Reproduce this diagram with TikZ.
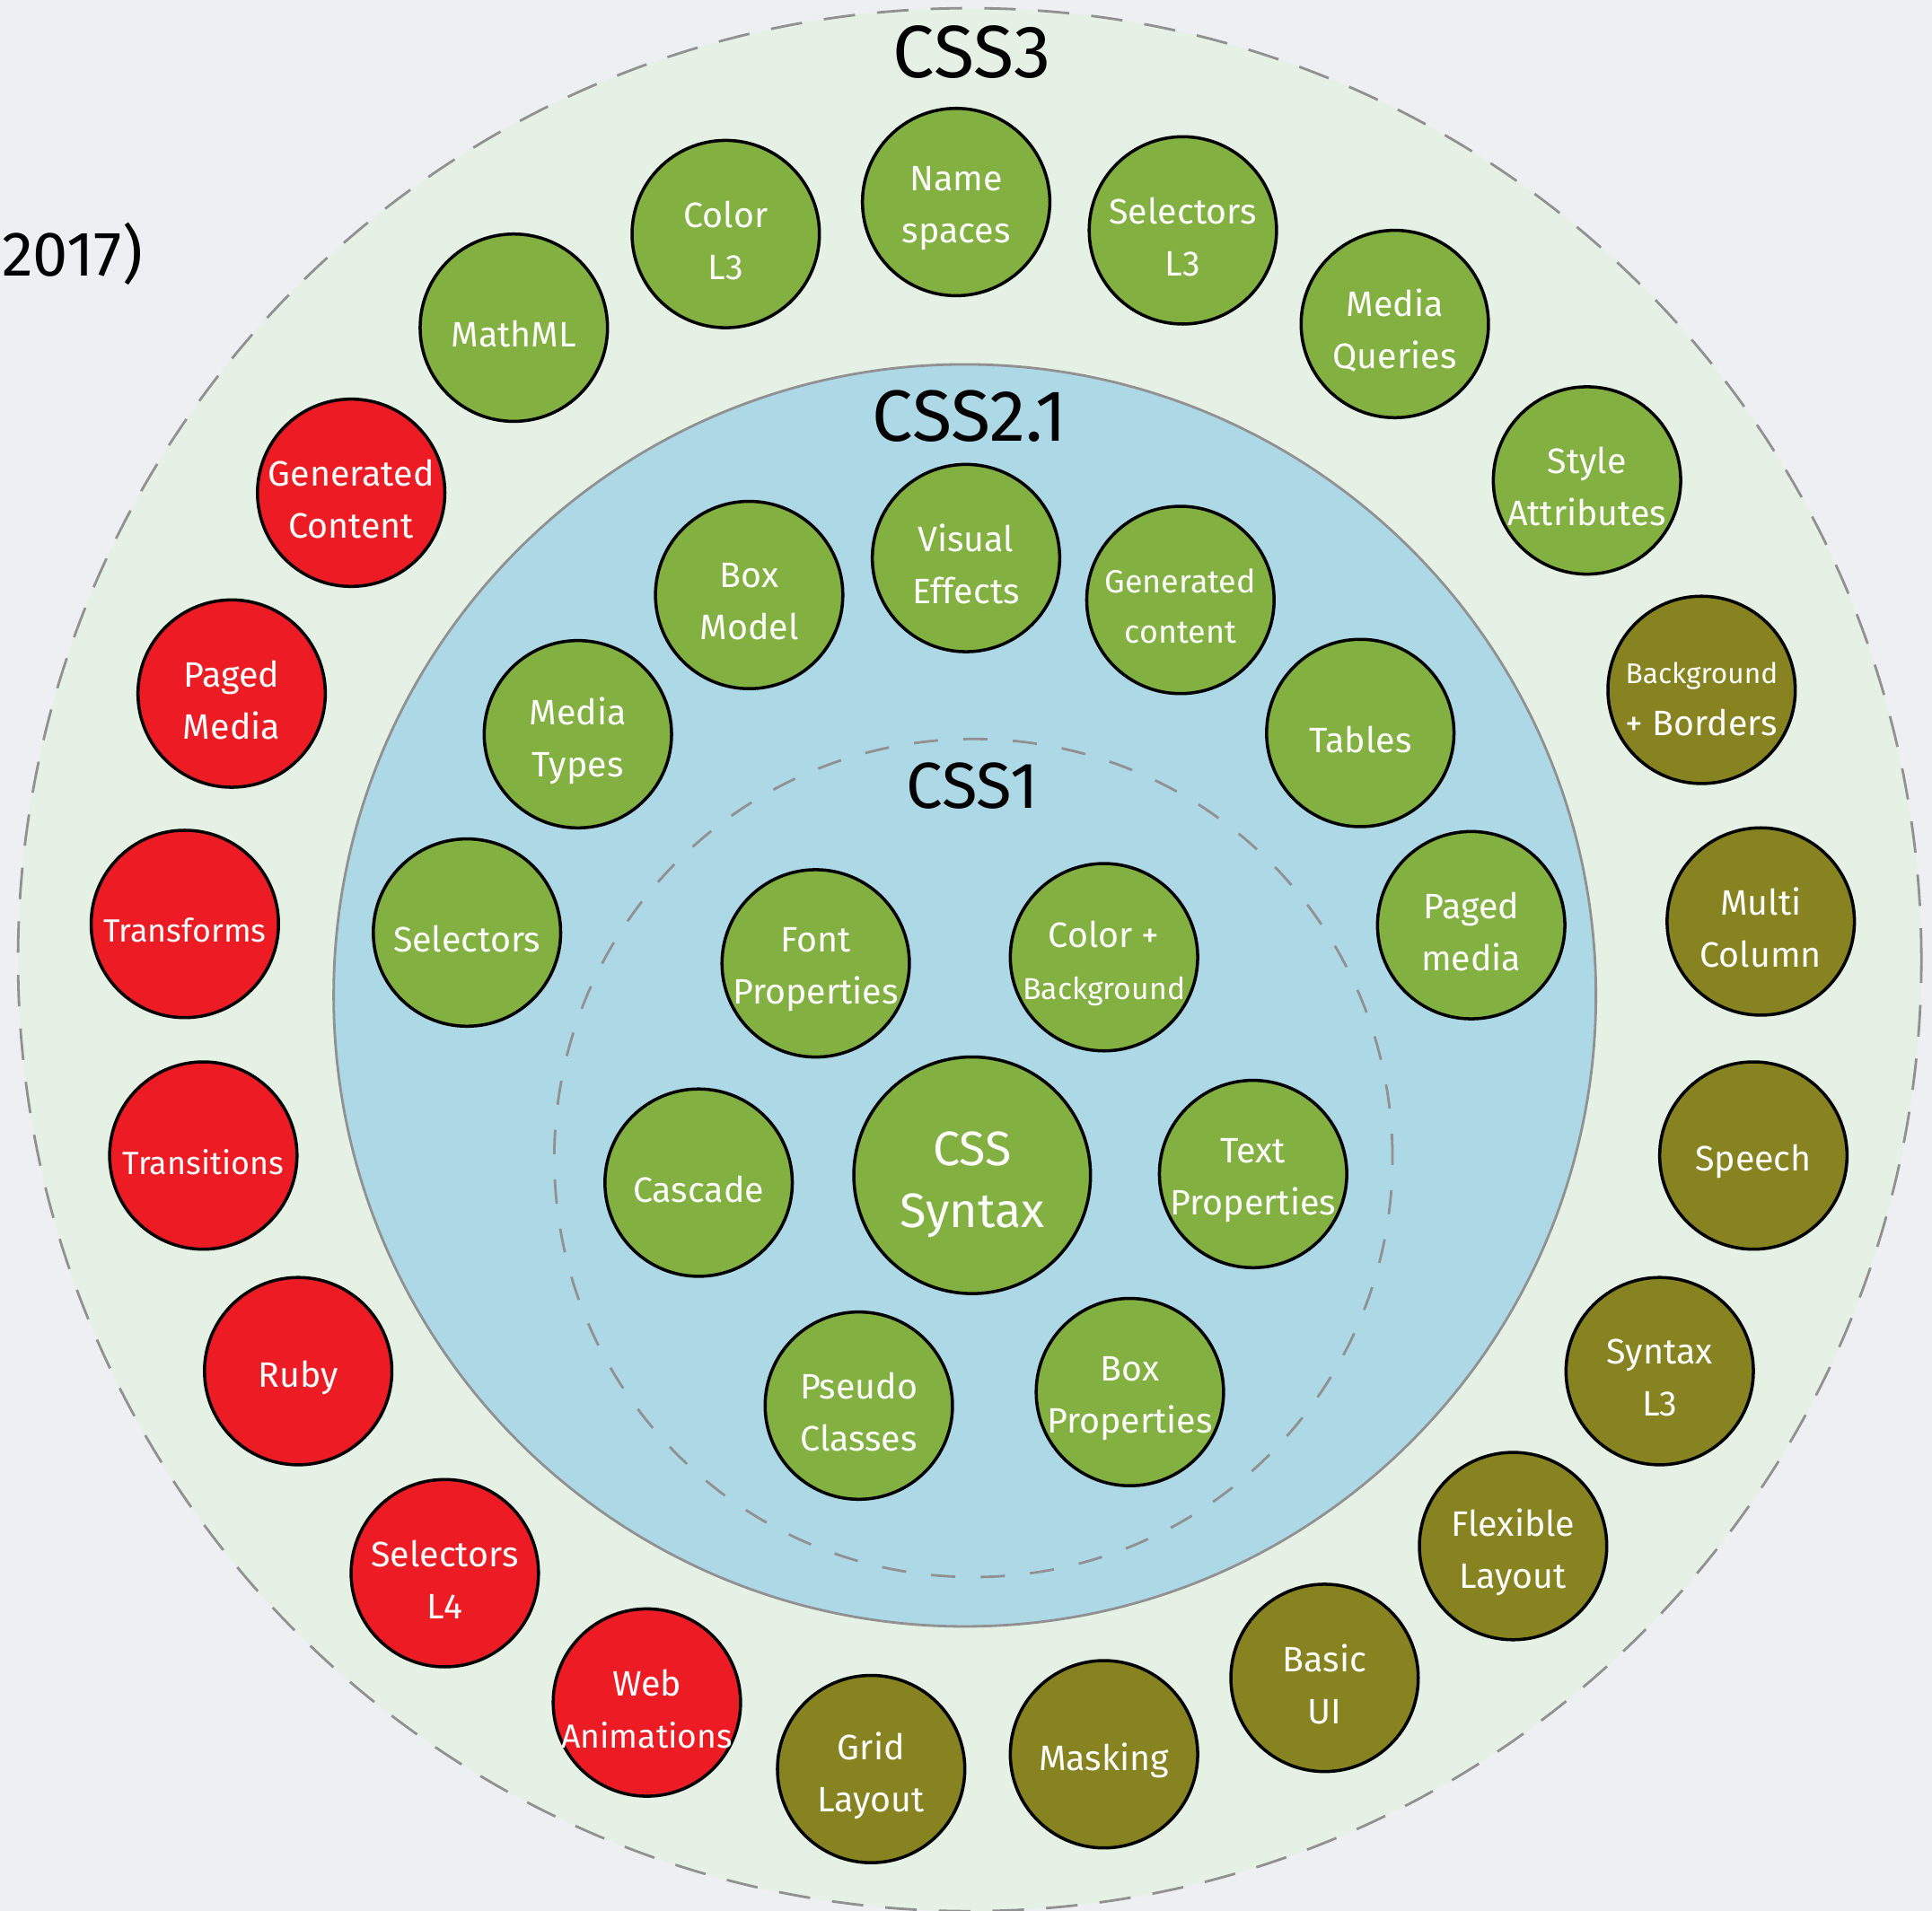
\documentclass[tikz,border=0pt]{standalone}
\usepackage{fontspec}
\setmainfont{Fira Sans}
\definecolor{bgc}{RGB}{238,239,243}
\definecolor{ringc}{RGB}{228,241,228}
\definecolor{bluec}{RGB}{173,216,230}
\definecolor{cgreen}{RGB}{130,176,65}
\definecolor{colive}{RGB}{134,131,32}
\definecolor{cred}{RGB}{237,28,36}
\definecolor{edgec}{RGB}{145,145,145}
\begin{document}
\begin{tikzpicture}[x=0.013724cm,y=-0.013724cm,
  bub/.style={circle, draw=black, line width=1pt, minimum size=2.086cm, inner sep=0pt},
  gr/.style={bub, fill=cgreen},
  ol/.style={bub, fill=colive},
  rd/.style={bub, fill=cred},
  txt/.style={text=white, align=center, inner sep=0pt, yshift=-2pt, font=\fontsize{11.2}{16.5}\selectfont},
  small/.style={txt, font=\fontsize{10.2}{16}\selectfont},
  ringtitle/.style={text=black, inner sep=0pt},
  ring/.style={circle, inner sep=0pt, line width=0.8pt, draw=edgec}
]
\clip (0,0) rectangle (1568,1551);
\fill[bgc] (0,0) rectangle (1568,1551);
\node[anchor=base west, inner sep=0pt, font=\fontsize{20}{24}\selectfont] (year) at (1,224) {2017)};

% rings
\node[ring, fill=ringc, minimum size=21.19cm, dash pattern=on 10pt off 7pt] (css3) at (787,779) {};
\node[ring, fill=bluec, minimum size=14.053cm] (css21) at (783,808) {};
\node[ring, minimum size=9.332cm, dash pattern=on 7.7pt off 8pt] (css1) at (790,940) {};

\node[ringtitle, font=\fontsize{23.5}{28}\selectfont] (t3) at (789,42) {CSS3};
\node[ringtitle, font=\fontsize{23}{28}\selectfont] (t21) at (787,338) {CSS2.1};
\node[ringtitle, font=\fontsize{20.6}{25}\selectfont] (t1) at (789,638) {CSS1};

% CSS3 ring: green
\node[gr, label={[txt]center:Name\\spaces}] (ns) at (776,164) {};
\node[gr, label={[txt]center:Color\\L3}] (col3) at (589,190) {};
\node[gr, label={[txt]center:Selectors\\L3}] (sel3) at (960,187) {};
\node[gr, label={[txt]center:MathML}] (mathml) at (417,266) {};
\node[gr, label={[txt]center:Media\\Queries}] (mq) at (1132,263) {};
\node[gr, label={[txt]center:Style\\Attributes}] (sa) at (1288,390) {};
% CSS3 ring: olive
\node[ol, label={[txt, yshift=-1pt]center:{\fontsize{9}{14}\selectfont Background}\\+ Borders}] (bb) at (1381,560) {};
\node[ol, label={[txt]center:Multi\\Column}] (mc) at (1429,748) {};
\node[ol, label={[txt]center:Speech}] (speech) at (1423,938) {};
\node[ol, label={[txt]center:Syntax\\L3}] (syn3) at (1347,1113) {};
\node[ol, label={[txt]center:Flexible\\Layout}] (flex) at (1228,1255) {};
\node[ol, label={[txt]center:Basic\\UI}] (ui) at (1075,1362) {};
\node[ol, label={[txt]center:Masking}] (mask) at (896,1424) {};
\node[ol, label={[txt]center:Grid\\Layout}] (grid) at (707,1436) {};
% CSS3 ring: red
\node[rd, label={[txt]center:Generated\\Content}] (gc) at (285,400) {};
\node[rd, label={[txt]center:Paged\\Media}] (pm) at (188,563) {};
\node[rd, label={[small]center:Transforms}] (tf) at (150,750) {};
\node[rd, label={[small]center:Transitions}] (tr) at (165,938) {};
\node[rd, label={[txt]center:Ruby}] (ruby) at (242,1113) {};
\node[rd, label={[txt]center:Selectors\\L4}] (sel4) at (361,1277) {};
\node[rd, label={[txt]center:Web\\{\fontsize{10.6}{15}\selectfont Animations}}] (wa) at (525,1382) {};

% CSS2.1
\node[gr, label={[txt]center:Visual\\Effects}] (ve) at (784,453) {};
\node[gr, label={[txt]center:Box\\Model}] (bm) at (608,483) {};
\node[gr, label={[small]center:Generated\\content}] (gc2) at (958,487) {};
\node[gr, label={[txt]center:Media\\Types}] (mt) at (469,596) {};
\node[gr, label={[txt]center:Tables}] (tables) at (1104,595) {};
\node[gr, label={[txt]center:Selectors}] (sel) at (379,757) {};
\node[gr, label={[txt]center:Paged\\media}] (pm2) at (1194,751) {};

% CSS1
\node[gr, label={[txt]center:Font\\Properties}] (fp) at (662,782) {};
\node[gr, label={[txt]center:Color +\\{\fontsize{9.6}{14}\selectfont Background}}] (cb) at (896,777) {};
\node[gr, minimum size=2.635cm, label={[txt, yshift=-1pt, font=\fontsize{15.3}{19.5}\selectfont]center:CSS\\Syntax}] (syntax) at (789,954) {};
\node[gr, label={[txt]center:Cascade}] (cascade) at (567,960) {};
\node[gr, label={[txt]center:Text\\Properties}] (tp) at (1017,953) {};
\node[gr, label={[txt]center:Pseudo\\Classes}] (pc) at (697,1141) {};
\node[gr, label={[txt]center:Box\\Properties}] (bp) at (917,1130) {};
\end{tikzpicture}
\end{document}
